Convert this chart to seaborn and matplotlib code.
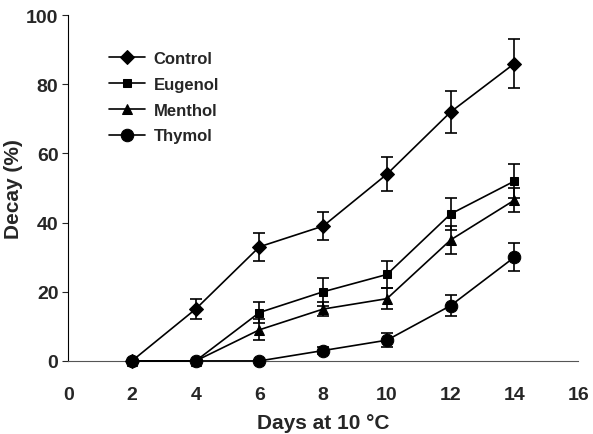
import pandas as pd
import seaborn as sns
from matplotlib import pyplot as plt

days = [2, 4, 6, 8, 10, 12, 14]
control = [0, 15, 33, 39, 54, 72, 86]
control_err = [0, 3, 4, 4, 5, 6, 7]
eugenol = [0, 0, 14, 20, 25, 42.5, 52]
eugenol_err = [0, 0, 3, 4, 4, 4.5, 5]
menthol = [0, 0, 9, 15, 18, 35, 46.5]
menthol_err = [0, 0, 3, 2, 3, 4, 3.5]
thymol = [0, 0, 0, 3, 6, 16, 30]
thymol_err = [0, 0, 0, 1, 2, 3, 4]

names = ['Control', 'Eugenol', 'Menthol', 'Thymol']
values = [control, eugenol, menthol, thymol]
errors = [control_err, eugenol_err, menthol_err, thymol_err]
markers = ['D', 's', '^', 'o']
msizes = [7, 6, 7, 9]

sns.set_style('ticks')
plt.rcParams['font.family'] = ['Liberation Sans', 'DejaVu Sans']
plt.rcParams['font.weight'] = 'bold'

df = pd.DataFrame({
    'day': days * 4,
    'decay': sum(values, []),
    'treatment': [n for n in names for _ in days],
})

fig = plt.figure(figsize=(5.93, 4.35), dpi=100)
ax = fig.add_axes([0.115, 0.168, 0.86, 0.795])

for name, m, ms, err in zip(names, markers, msizes, errors):
    sub = df[df.treatment == name]
    sns.lineplot(data=sub, x='day', y='decay', ax=ax, color='black', lw=1.2,
                 marker=m, markersize=ms, markeredgecolor='black', label=name,
                 clip_on=False, zorder=3)
    ax.errorbar(sub.day, sub.decay, yerr=err, fmt='none', ecolor='black',
                elinewidth=1.2, capsize=4, capthick=1.2)

ax.set_xlim(0, 16)
ax.set_ylim(0, 100)
ax.set_xticks(range(0, 17, 2))
ax.set_yticks(range(0, 101, 20))
ax.tick_params(axis='x', length=0, pad=18, labelsize=14)
ax.tick_params(axis='y', length=4, pad=3, labelsize=14)
for lab in ax.get_xticklabels() + ax.get_yticklabels():
    lab.set_fontweight('bold')
ax.spines['left'].set_color('black')
ax.spines['bottom'].set_color('#555555')
sns.despine(ax=ax)
ax.set_xlabel('Days at 10 °C', fontsize=15, fontweight='bold', labelpad=7)
ax.set_ylabel('Decay (%)', fontsize=15, fontweight='bold', labelpad=2)

ax.legend(loc='upper left', bbox_to_anchor=(0.05, 0.94), frameon=False,
          handlelength=2.2, handletextpad=0.5, labelspacing=0.65,
          prop={'weight': 'bold', 'size': 12})

fig.savefig('out.png', dpi=100)
